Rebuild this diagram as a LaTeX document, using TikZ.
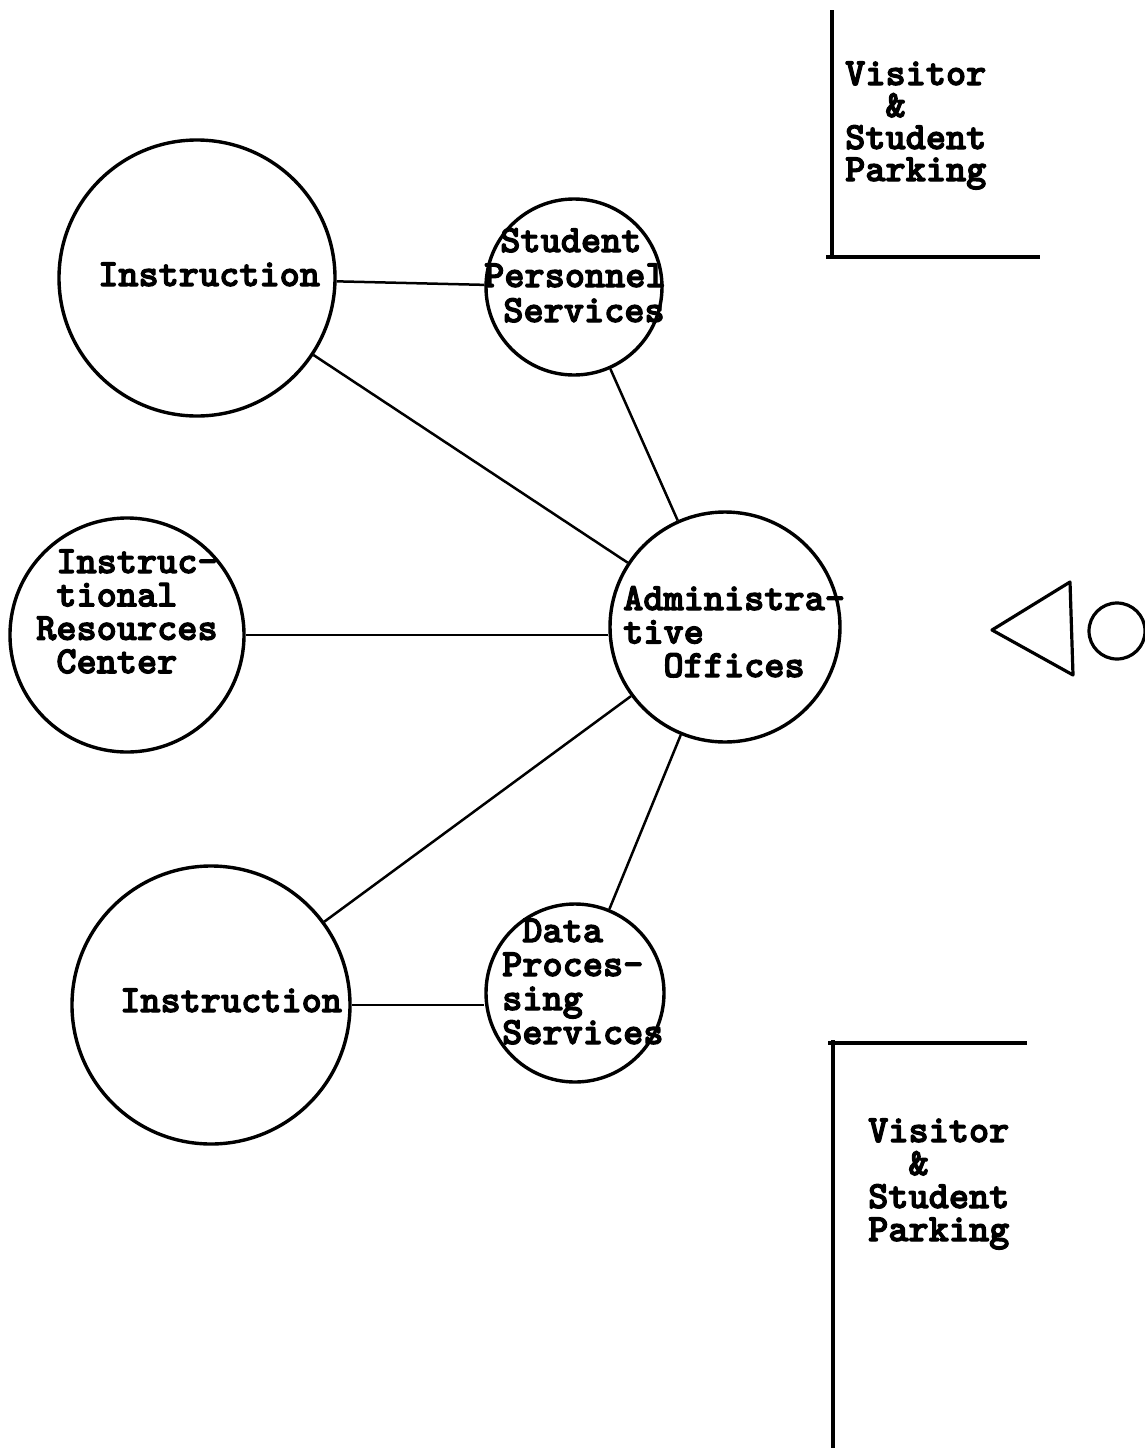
\documentclass[tikz,border=0pt]{standalone}
\usepackage{fontspec}
\newfontfamily\twfont{lmmonolt10-bold.otf}[FakeBold=3]
\newlength{\chw}
\setlength{\chw}{20.16pt}
\newcommand{\Ln}[2][0]{\hbox{\hspace*{#1\chw}#2}}
\newcommand{\Blk}[2]{\vtop{\baselineskip=#1\relax #2}}
\begin{document}
\begin{tikzpicture}[x=1pt,y=-1pt,
  ring/.style={draw,circle,line width=3.4pt,inner sep=0pt},
  link/.style={line width=2.5pt},
  edge/.style={line width=3.2pt},
  txt/.style={font=\twfont\fontsize{38.4}{34}\selectfont,inner sep=0pt,anchor=base west}]
\useasboundingbox (0,0) rectangle (1145,1448);
% circles
\node[ring,minimum size=276pt] (itop) at (197,278) {};
\node[ring,minimum size=176pt] (sps) at (574,287) {};
\node[ring,minimum size=234pt] (irc) at (127,635) {};
\node[ring,minimum size=230pt] (adm) at (725,627) {};
\node[ring,minimum size=278pt] (ibot) at (211,1005) {};
\node[ring,minimum size=178pt] (dps) at (575,993) {};
% connectors
\draw[link] (itop) -- (sps);
\draw[link] (itop) -- (adm);
\draw[link] (sps) -- (adm);
\draw[link] (irc.east) -- (irc.east -| adm.west);
\draw[link] (adm) -- (ibot);
\draw[link] (adm) -- (dps);
\draw[link] (ibot.east) -- (ibot.east -| dps.west);
% labels
\node[txt] (titop) at (98,286) {Instruction};
\node[txt] (tsps) at (484,252) {\Blk{35pt}{\Ln[0.8]{Student}\Ln{Personnel}\Ln[0.95]{Services}}};
\node[txt] (tirc) at (36,573) {\Blk{33.4pt}{\Ln[1]{Instruc-}\Ln[1]{tional}\Ln{Resources}\Ln[1]{Center}}};
\node[txt] (tadm) at (623,610) {\Blk{33.5pt}{\Ln{Administra-}\Ln{tive}\Ln[2]{Offices}}};
\node[txt] (tibot) at (120,1012) {Instruction};
\node[txt] (tdps) at (502,942) {\Blk{34pt}{\Ln[1]{Data}\Ln{Proces-}\Ln{sing}\Ln{Services}}};
% parking
\coordinate (p1a) at (832,10);
\coordinate (p1b) at (832,258);
\coordinate (p1c) at (826,257);
\coordinate (p1d) at (1040,257);
\draw[edge] (p1a) -- (p1b);
\draw[edge] (p1c) -- (p1d);
\node[txt] (tpk1) at (845,85) {\Blk{32pt}{\Ln{Visitor}\Ln[2]{\&}\Ln{Student}\Ln{Parking}}};
\coordinate (p2a) at (833,1040);
\coordinate (p2b) at (833,1448);
\coordinate (p2c) at (828,1043);
\coordinate (p2d) at (1027,1043);
\draw[edge] (p2a) -- (p2b);
\draw[edge] (p2c) -- (p2d);
\node[txt] (tpk2) at (868,1142) {\Blk{33pt}{\Ln{Visitor}\Ln[2]{\&}\Ln{Student}\Ln{Parking}}};
% entrance symbol
\coordinate (tr1) at (992,630);
\coordinate (tr2) at (1070,582);
\coordinate (tr3) at (1073,675);
\draw[edge,line join=round] (tr1) -- (tr2) -- (tr3) -- cycle;
\draw[edge] (1117,631) circle (28);
\end{tikzpicture}
\end{document}
